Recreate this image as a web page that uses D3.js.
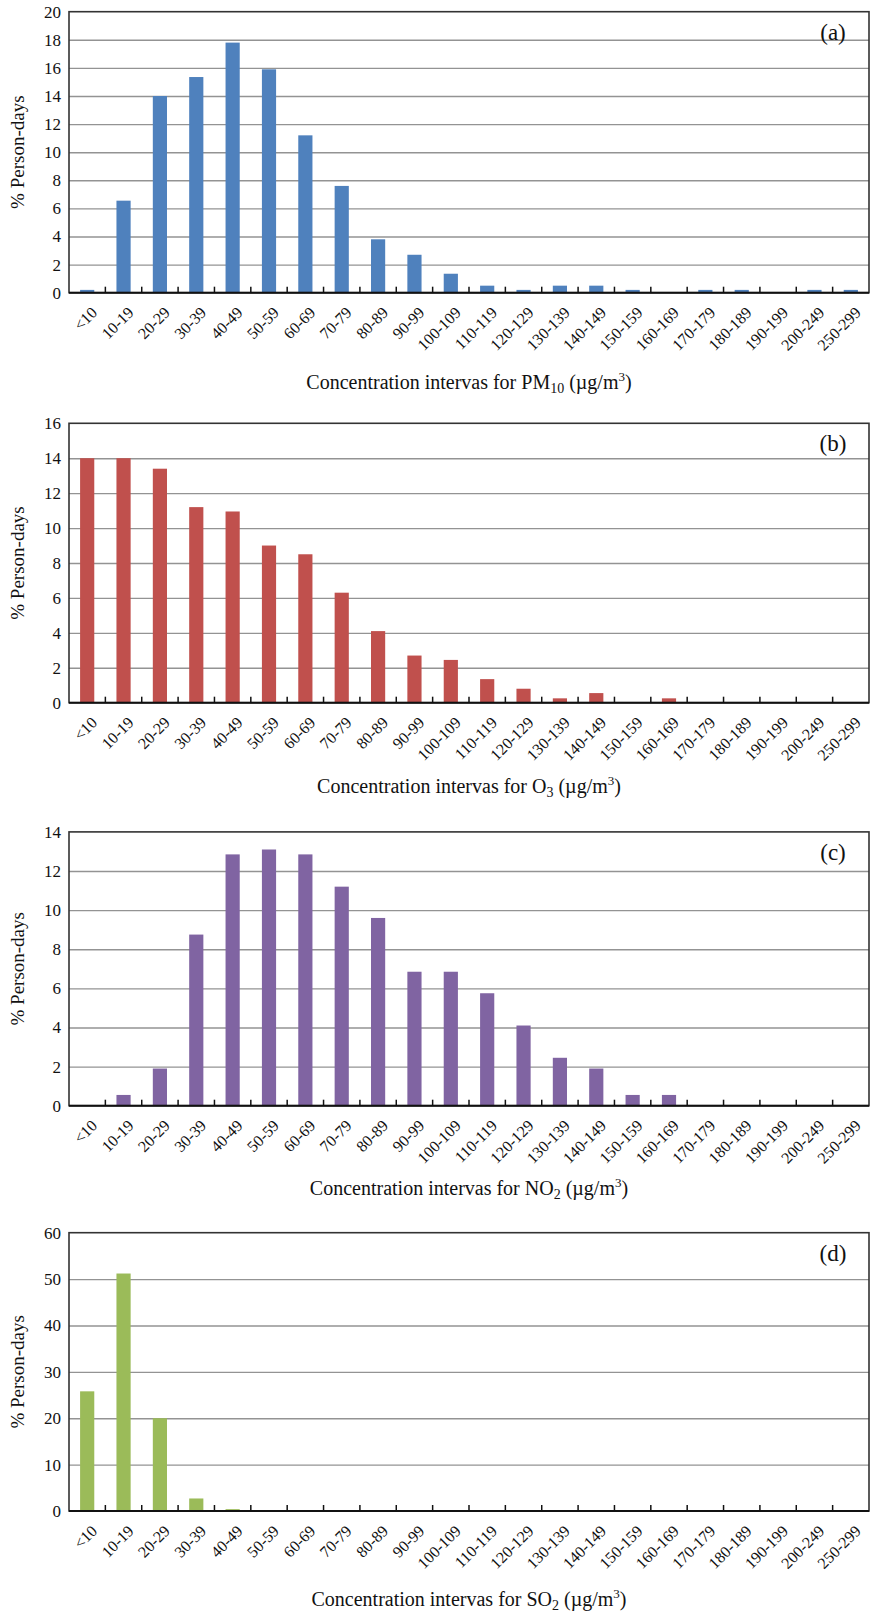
<!DOCTYPE html>
<html>
<head>
<meta charset="utf-8">
<script src="https://cdn.jsdelivr.net/npm/d3@7"></script>
<style>
  html, body { margin: 0; padding: 0; background: #fff; }
  svg { display: block; }
  svg text { font-family: "Liberation Serif", Tinos, "Times New Roman", Times, "DejaVu Serif", serif; }
</style>
</head>
<body>
<div id="chart"></div>
<script>
const width = 871, height = 1613;
const serif = '"Liberation Serif", Tinos, "Times New Roman", Times, "DejaVu Serif", serif';

// intervalles de concentration
const categories = ["<10", "10-19", "20-29", "30-39", "40-49", "50-59", "60-69", "70-79", "80-89", "90-99",
  "100-109", "110-119", "120-129", "130-139", "140-149", "150-159", "160-169", "170-179", "180-189",
  "190-199", "200-249", "250-299"];

// % person-days par polluant
const pm10 = [0.2, 6.55, 14.0, 15.35, 17.8, 15.9, 11.2, 7.6, 3.8, 2.7, 1.35, 0.5, 0.2, 0.5, 0.5, 0.2, 0, 0.2, 0.2, 0, 0.2, 0.2];
const o3   = [14.0, 14.0, 13.4, 11.2, 10.95, 9.0, 8.5, 6.3, 4.1, 2.7, 2.45, 1.35, 0.8, 0.25, 0.55, 0, 0.25, 0, 0, 0, 0, 0];
const no2  = [0, 0.55, 1.9, 8.75, 12.85, 13.1, 12.85, 11.2, 9.6, 6.85, 6.85, 5.75, 4.1, 2.45, 1.9, 0.55, 0.55, 0, 0, 0, 0, 0];
const so2  = [25.8, 51.2, 20.0, 2.7, 0.4, 0, 0, 0, 0, 0, 0, 0, 0, 0, 0, 0, 0, 0, 0, 0, 0, 0];

const yMax = [20, 16, 14, 60];
const yStep = [2, 2, 2, 10];
const panelLabels = ["(a)", "(b)", "(c)", "(d)"];
const pollutants = [["PM", "10"], ["O", "3"], ["NO", "2"], ["SO", "2"]];
const colors = ["#4F81BD", "#C0504D", "#8064A2", "#9BBB59"];
const series = [pm10, o3, no2, so2];

// mise en page
const left = 69, right = 869;
const layout = [
  {top: 11.7, bottom: 292.7, titleY: 389},
  {top: 423.3, bottom: 702.7, titleY: 793},
  {top: 831.9, bottom: 1105.7, titleY: 1195},
  {top: 1232.7, bottom: 1511, titleY: 1606}
];

const svg = d3.select("#chart").append("svg")
  .attr("width", width).attr("height", height)
  .attr("viewBox", [0, 0, width, height])
  .attr("font-family", serif);

const x = d3.scaleBand().domain(categories).range([left, right]).padding(0);
const bw = x.bandwidth() * 0.39;

series.forEach((values, p) => {
  const {top, bottom, titleY} = layout[p];
  const y = d3.scaleLinear().domain([0, yMax[p]]).range([bottom, top]);
  const ticks = d3.range(0, yMax[p] + yStep[p] / 2, yStep[p]);
  const g = svg.append("g").attr("font-family", serif);

  // grille
  g.append("g")
    .attr("transform", `translate(${left},0)`)
    .call(d3.axisLeft(y).tickValues(ticks.slice(1, -1)).tickSize(-(right - left)).tickFormat(""))
    .call(a => a.select(".domain").remove())
    .call(a => a.selectAll("line").attr("stroke", "#939393").attr("stroke-width", 1.4));

  // barres
  g.append("g").selectAll("rect").data(values).join("rect")
    .attr("x", (d, i) => x(categories[i]) + (x.bandwidth() - bw) / 2)
    .attr("y", d => y(d))
    .attr("width", bw)
    .attr("height", d => y(0) - y(d))
    .attr("fill", colors[p]);

  // axe y
  g.append("g")
    .attr("transform", `translate(${left},0)`)
    .call(d3.axisLeft(y).tickValues(ticks).tickSize(0).tickPadding(8))
    .attr("font-family", serif).attr("font-size", 17)
    .call(a => a.select(".domain").remove())
    .call(a => a.selectAll("text").attr("fill", "#111"));

  // cadre
  g.append("rect")
    .attr("x", left).attr("y", top)
    .attr("width", right - left).attr("height", bottom - top)
    .attr("fill", "none").attr("stroke", "#333").attr("stroke-width", 1.6);
  g.append("line")
    .attr("x1", left).attr("x2", right).attr("y1", bottom).attr("y2", bottom)
    .attr("stroke", "#111").attr("stroke-width", 2);

  // graduations entre catégories
  g.append("g").selectAll("line").data(categories.slice(1)).join("line")
    .attr("x1", d => x(d)).attr("x2", d => x(d))
    .attr("y1", bottom).attr("y2", bottom - 6)
    .attr("stroke", "#111").attr("stroke-width", 1.5);

  // étiquettes x
  g.append("g").selectAll("text").data(categories).join("text")
    .attr("transform", d => `translate(${x(d) + x.bandwidth() / 2 + 11},${bottom + 21}) rotate(-45)`)
    .attr("text-anchor", "end")
    .attr("font-size", 16)
    .attr("fill", "#111")
    .text(d => d);

  // titre y
  g.append("text")
    .attr("transform", `translate(24,${(top + bottom) / 2}) rotate(-90)`)
    .attr("text-anchor", "middle")
    .attr("font-size", 19)
    .attr("fill", "#111")
    .text("% Person-days");

  // titre x
  const t = g.append("text")
    .attr("x", (left + right) / 2).attr("y", titleY)
    .attr("text-anchor", "middle")
    .attr("font-size", 20)
    .attr("fill", "#111");
  t.append("tspan").text("Concentration intervas for " + pollutants[p][0]);
  t.append("tspan").attr("font-size", 14).attr("dy", 4).text(pollutants[p][1]);
  t.append("tspan").attr("dy", -4).text(" (\u00b5g/m");
  t.append("tspan").attr("font-size", 13).attr("dy", -8).text("3");
  t.append("tspan").attr("dy", 8).text(")");

  // lettre du panneau
  g.append("text")
    .attr("x", 833).attr("y", top + 28)
    .attr("text-anchor", "middle")
    .attr("font-size", 23)
    .attr("fill", "#111")
    .text(panelLabels[p]);
});
</script>
</body>
</html>
